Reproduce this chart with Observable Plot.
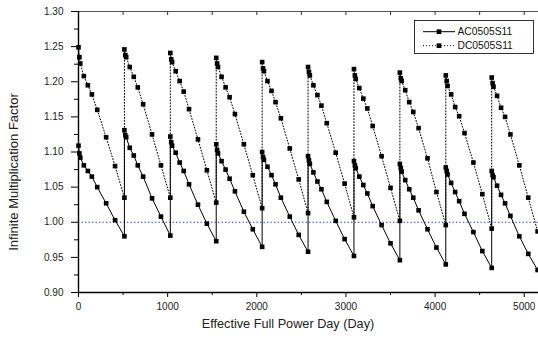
<!DOCTYPE html>
<html><head><meta charset="utf-8">
<script src="https://cdn.jsdelivr.net/npm/d3@7"></script>
<script src="https://cdn.jsdelivr.net/npm/@observablehq/plot@0.6"></script>
<style>
body{margin:0;background:#fff;}
#chart{position:relative;width:538px;height:345px;overflow:hidden;}
</style>
</head><body><div id="chart"></div>
<script>
// ---- data ----
const seriesNames = ["AC0505S11", "DC0505S11"];
const cycleStart = [0, 515, 1030, 1545, 2060, 2575, 3090, 3605, 4120, 4635];
const stepDays = [0, 10, 20, 60, 105, 150, 210, 310, 410, 515];
const acValues = [
  [1.109, 1.098, 1.092, 1.081, 1.073, 1.065, 1.050, 1.027, 1.003, 0.980],
  [1.131, 1.124, 1.121, 1.106, 1.095, 1.081, 1.065, 1.034, 1.008, 0.981],
  [1.122, 1.114, 1.109, 1.099, 1.085, 1.073, 1.054, 1.025, 0.998, 0.973],
  [1.111, 1.103, 1.098, 1.087, 1.075, 1.062, 1.044, 1.015, 0.990, 0.965],
  [1.100, 1.093, 1.089, 1.079, 1.067, 1.054, 1.035, 1.008, 0.982, 0.958],
  [1.094, 1.088, 1.083, 1.071, 1.058, 1.047, 1.029, 1.002, 0.976, 0.952],
  [1.087, 1.081, 1.077, 1.065, 1.053, 1.041, 1.023, 0.996, 0.970, 0.946],
  [1.083, 1.077, 1.072, 1.060, 1.047, 1.035, 1.017, 0.990, 0.964, 0.940],
  [1.078, 1.073, 1.068, 1.056, 1.043, 1.030, 1.012, 0.986, 0.959, 0.935],
  [1.073, 1.067, 1.064, 1.052, 1.039, 1.027, 1.009, 0.980, 0.955, 0.932]
];
const dcValues = [
  [1.249, 1.235, 1.226, 1.208, 1.195, 1.182, 1.160, 1.121, 1.080, 1.035],
  [1.246, 1.238, 1.235, 1.221, 1.207, 1.192, 1.168, 1.125, 1.081, 1.035],
  [1.241, 1.232, 1.228, 1.215, 1.201, 1.186, 1.161, 1.118, 1.074, 1.028],
  [1.234, 1.226, 1.221, 1.207, 1.192, 1.178, 1.154, 1.111, 1.067, 1.020],
  [1.228, 1.219, 1.215, 1.201, 1.187, 1.171, 1.148, 1.105, 1.061, 1.013],
  [1.221, 1.214, 1.209, 1.195, 1.181, 1.166, 1.141, 1.099, 1.055, 1.007],
  [1.218, 1.209, 1.204, 1.191, 1.176, 1.162, 1.137, 1.094, 1.049, 1.002],
  [1.213, 1.205, 1.201, 1.188, 1.171, 1.157, 1.134, 1.091, 1.043, 0.996],
  [1.209, 1.201, 1.194, 1.182, 1.164, 1.151, 1.127, 1.085, 1.040, 0.991],
  [1.206, 1.198, 1.193, 1.180, 1.163, 1.150, 1.125, 1.081, 1.035, 0.987]
];
const refLevel = 1.0;
const yMajorTicks = [0.90, 0.95, 1.00, 1.05, 1.10, 1.15, 1.20, 1.25, 1.30];
const yMinorTicks = [0.925, 0.975, 1.025, 1.075, 1.125, 1.175, 1.225, 1.275];
const xMajorTicks = [0, 1000, 2000, 3000, 4000, 5000];
const xMinorTicks = [500, 1500, 2500, 3500, 4500];
const xTopTicks = [500, 1000, 1500, 2000, 2500, 3000, 3500, 4000, 4500, 5000];
const xDomain = [0, 5160];
const yDomain = [0.90, 1.30];
const xTitle = "Effective Full Power Day (Day)";
const yTitle = "Infinite Multiplication Factor";

// ---- table ----
function buildRows(values, name) {
  const rows = [];
  cycleStart.forEach((s, c) => stepDays.forEach((d, i) => rows.push({series: name, day: s + d, k: values[c][i]})));
  return rows;
}
const acRows = buildRows(acValues, seriesNames[0]);
const dcRows = buildRows(dcValues, seriesNames[1]);
const allRows = acRows.concat(dcRows);

const W = 538, H = 345, mL = 78, mR = 0, mT = 11, mB = 53;
const frameH = H - mT - mB;
const font = "'Liberation Sans', Arial, Helvetica, sans-serif";

const chart = Plot.plot({
  width: W, height: H,
  marginLeft: mL, marginRight: mR, marginTop: mT, marginBottom: mB,
  style: {fontFamily: font, fontSize: "10px", color: "#222", background: "#fff", overflow: "visible"},
  x: {domain: xDomain},
  y: {domain: yDomain},
  marks: [
    Plot.ruleY([refLevel], {stroke: "#1a2cff", strokeWidth: 1, strokeDasharray: "1.3,2.2"}),
    Plot.line(dcRows, {x: "day", y: "k", stroke: "#000", strokeWidth: 1, strokeDasharray: "1,2"}),
    Plot.line(acRows, {x: "day", y: "k", stroke: "#000", strokeWidth: 1}),
    Plot.dot(allRows, {x: "day", y: "k", symbol: "square", fill: "#000", r: 2.6}),
    Plot.ruleY([yDomain[1]], {stroke: "#555", strokeWidth: 1}),
    Plot.ruleX([xDomain[0]], {stroke: "#000", strokeWidth: 1.4}),
    Plot.ruleY([yDomain[0]], {stroke: "#000", strokeWidth: 1.4}),
    Plot.tickX(xTopTicks, {x: d => d, insetBottom: frameH - 4, stroke: "#333"}),
    Plot.axisY({ticks: yMajorTicks, tickSize: 7, tickPadding: 8, tickFormat: ".2f", label: null, stroke: "#000"}),
    Plot.axisY({ticks: yMinorTicks, tickSize: 4, tickFormat: () => "", label: null, stroke: "#000"}),
    Plot.axisX({ticks: xMajorTicks, tickSize: 5, tickPadding: 5, tickFormat: "d", label: null, stroke: "#000"}),
    Plot.axisX({ticks: xMinorTicks, tickSize: 3, tickFormat: () => "", label: null, stroke: "#000"})
  ]
});
document.getElementById("chart").appendChild(chart);

// ---- titles and legend ----
const svg = d3.select(chart);
svg.append("text")
  .attr("transform", "translate(13,172) rotate(-90)")
  .attr("text-anchor", "middle").attr("dominant-baseline", "central")
  .attr("font-family", font).attr("font-size", 13).attr("fill", "#222")
  .text(yTitle);
svg.append("text")
  .attr("x", 288).attr("y", 324)
  .attr("text-anchor", "middle").attr("dominant-baseline", "central")
  .attr("font-family", font).attr("font-size", 12.7).attr("fill", "#222")
  .text(xTitle);

const lg = svg.append("g");
lg.append("rect").attr("x", 414.5).attr("y", 20.5).attr("width", 119).attr("height", 33)
  .attr("fill", "#fff").attr("stroke", "#000").attr("stroke-width", 0.8);
const dashes = [null, "1,2"];
[31.7, 45.7].forEach((yy, i) => {
  lg.append("line").attr("x1", 423).attr("x2", 455).attr("y1", yy).attr("y2", yy)
    .attr("stroke", "#000").attr("stroke-width", 1).attr("stroke-dasharray", dashes[i]);
  lg.append("rect").attr("x", 439 - 2.35).attr("y", yy - 2.35).attr("width", 4.7).attr("height", 4.7).attr("fill", "#000");
  lg.append("text").attr("x", 457.5).attr("y", yy).attr("text-anchor", "start").attr("dominant-baseline", "central")
    .attr("font-family", font).attr("font-size", 10.3).attr("fill", "#111").text(seriesNames[i]);
});
</script>
</body></html>
